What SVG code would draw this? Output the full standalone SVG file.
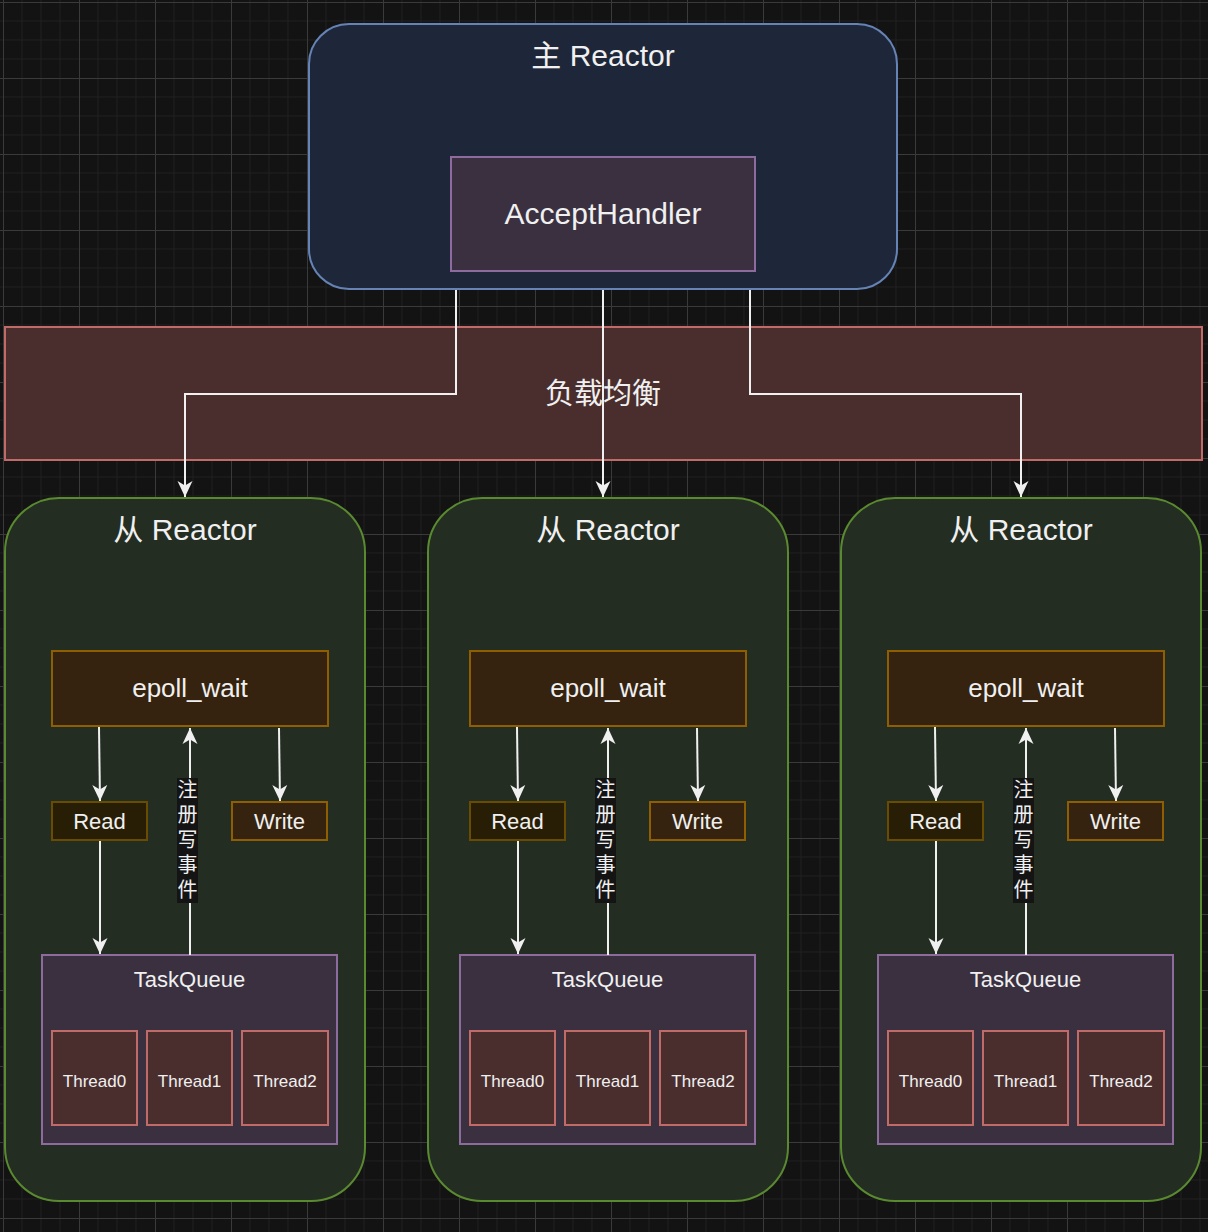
<svg xmlns="http://www.w3.org/2000/svg" width="1208" height="1232" viewBox="0 0 1208 1232">
<defs>
<pattern id="grid" x="3" y="2" width="76" height="76" patternUnits="userSpaceOnUse">
<path d="M19,0 V76 M38,0 V76 M57,0 V76 M0,19 H76 M0,38 H76 M0,57 H76" stroke="#1f1f1f" stroke-width="1" fill="none"/>
<path d="M0.5,0 V76 M0,0.5 H76" stroke="#3a3a3a" stroke-width="1" fill="none"/>
</pattern>
<marker id="arr" markerUnits="userSpaceOnUse" markerWidth="18" markerHeight="18" refX="16" refY="8" orient="auto">
<path d="M0,0.5 L16,8 L0,15.5 L4.5,8 Z" fill="#f0f0f0"/>
</marker>
<style>
text{font-family:"Liberation Sans",Arial,"Noto Sans CJK SC",sans-serif;fill:#f0f0f0;text-anchor:middle}
.slave{fill:#232d22;stroke:#5a8a30;stroke-width:2}
.epoll{fill:#35230f;stroke:#8e5e00;stroke-width:2}
.read{fill:#281e05;stroke:#6a4c00;stroke-width:2}
.write{fill:#35230f;stroke:#8e5e00;stroke-width:2}
.tq{fill:#3a3040;stroke:#8d6b9e;stroke-width:2}
.th{fill:#4a2e2e;stroke:#c06b68;stroke-width:2}
.conn{stroke:#f0f0f0;stroke-width:2;fill:none}
.lbl{fill:#141414}
</style>
</defs>
<rect width="1208" height="1232" fill="#131313"/>
<rect width="1208" height="1232" fill="url(#grid)"/>

<g id="main-reactor">
<rect x="309" y="24" width="588" height="265" rx="40" fill="#1e2739" stroke="#6583b5" stroke-width="2"/>
<text x="603" y="66" font-size="30">主 Reactor</text>
</g>
<g id="accept-handler">
<rect x="451" y="157" width="304" height="114" fill="#3a3040" stroke="#8d6b9e" stroke-width="2"/>
<text x="603" y="224" font-size="30">AcceptHandler</text>
</g>
<g id="load-balance">
<rect x="5" y="327" width="1197" height="133" fill="#4a2e2e" stroke="#c06b68" stroke-width="2"/>
<text x="603" y="404" font-size="29">负载均衡</text>
</g>

<g id="slave-1">
<rect class="slave" x="5" y="498" width="360" height="703" rx="54"/>
<text x="185" y="540" font-size="30">从 Reactor</text>
</g>
<g id="slave-2">
<rect class="slave" x="428" y="498" width="360" height="703" rx="54"/>
<text x="608" y="540" font-size="30">从 Reactor</text>
</g>
<g id="slave-3">
<rect class="slave" x="841" y="498" width="360" height="703" rx="54"/>
<text x="1021" y="540" font-size="30">从 Reactor</text>
</g>

<g id="col-1">
<g id="epoll-1"><rect class="epoll" x="52" y="651" width="276" height="75"/><text x="190" y="697" font-size="26">epoll_wait</text></g>
<g id="read-1"><rect class="read" x="52" y="802" width="95" height="38"/><text x="99.5" y="829" font-size="22">Read</text></g>
<g id="write-1"><rect class="write" x="232" y="802" width="95" height="38"/><text x="279.5" y="829" font-size="22">Write</text></g>
<g id="taskqueue-1"><rect class="tq" x="42" y="955" width="295" height="189"/><text x="189.5" y="987" font-size="22">TaskQueue</text></g>
<g id="thread0-1"><rect class="th" x="52" y="1031" width="85" height="94"/><text x="94.5" y="1087" font-size="17">Thread0</text></g>
<g id="thread1-1"><rect class="th" x="147" y="1031" width="85" height="94"/><text x="189.5" y="1087" font-size="17">Thread1</text></g>
<g id="thread2-1"><rect class="th" x="242" y="1031" width="86" height="94"/><text x="285" y="1087" font-size="17">Thread2</text></g>
</g>
<g id="col-2" transform="translate(418,0)">
<g id="epoll-2"><rect class="epoll" x="52" y="651" width="276" height="75"/><text x="190" y="697" font-size="26">epoll_wait</text></g>
<g id="read-2"><rect class="read" x="52" y="802" width="95" height="38"/><text x="99.5" y="829" font-size="22">Read</text></g>
<g id="write-2"><rect class="write" x="232" y="802" width="95" height="38"/><text x="279.5" y="829" font-size="22">Write</text></g>
<g id="taskqueue-2"><rect class="tq" x="42" y="955" width="295" height="189"/><text x="189.5" y="987" font-size="22">TaskQueue</text></g>
<g id="thread0-2"><rect class="th" x="52" y="1031" width="85" height="94"/><text x="94.5" y="1087" font-size="17">Thread0</text></g>
<g id="thread1-2"><rect class="th" x="147" y="1031" width="85" height="94"/><text x="189.5" y="1087" font-size="17">Thread1</text></g>
<g id="thread2-2"><rect class="th" x="242" y="1031" width="86" height="94"/><text x="285" y="1087" font-size="17">Thread2</text></g>
</g>
<g id="col-3" transform="translate(836,0)">
<g id="epoll-3"><rect class="epoll" x="52" y="651" width="276" height="75"/><text x="190" y="697" font-size="26">epoll_wait</text></g>
<g id="read-3"><rect class="read" x="52" y="802" width="95" height="38"/><text x="99.5" y="829" font-size="22">Read</text></g>
<g id="write-3"><rect class="write" x="232" y="802" width="95" height="38"/><text x="279.5" y="829" font-size="22">Write</text></g>
<g id="taskqueue-3"><rect class="tq" x="42" y="955" width="295" height="189"/><text x="189.5" y="987" font-size="22">TaskQueue</text></g>
<g id="thread0-3"><rect class="th" x="52" y="1031" width="85" height="94"/><text x="94.5" y="1087" font-size="17">Thread0</text></g>
<g id="thread1-3"><rect class="th" x="147" y="1031" width="85" height="94"/><text x="189.5" y="1087" font-size="17">Thread1</text></g>
<g id="thread2-3"><rect class="th" x="242" y="1031" width="86" height="94"/><text x="285" y="1087" font-size="17">Thread2</text></g>
</g>

<g id="connectors">
<path class="conn" d="M456,290 V394 H185 V497" marker-end="url(#arr)"/>
<path class="conn" d="M603,290 V497" marker-end="url(#arr)"/>
<path class="conn" d="M750,290 V394 H1021 V497" marker-end="url(#arr)"/>
<g id="inner-conn-1">
<path class="conn" d="M99,727 L100,801" marker-end="url(#arr)"/>
<path class="conn" d="M279,728 L280,801" marker-end="url(#arr)"/>
<path class="conn" d="M100,841 V954" marker-end="url(#arr)"/>
<path class="conn" d="M190,955 V728" marker-end="url(#arr)"/>
<rect class="lbl" x="177" y="778" width="21" height="125"/>
<text font-size="20"><tspan x="187.5" y="797">注</tspan><tspan x="187.5" y="822">册</tspan><tspan x="187.5" y="847">写</tspan><tspan x="187.5" y="872">事</tspan><tspan x="187.5" y="897">件</tspan></text>
</g>
<g id="inner-conn-2" transform="translate(418,0)">
<path class="conn" d="M99,727 L100,801" marker-end="url(#arr)"/>
<path class="conn" d="M279,728 L280,801" marker-end="url(#arr)"/>
<path class="conn" d="M100,841 V954" marker-end="url(#arr)"/>
<path class="conn" d="M190,955 V728" marker-end="url(#arr)"/>
<rect class="lbl" x="177" y="778" width="21" height="125"/>
<text font-size="20"><tspan x="187.5" y="797">注</tspan><tspan x="187.5" y="822">册</tspan><tspan x="187.5" y="847">写</tspan><tspan x="187.5" y="872">事</tspan><tspan x="187.5" y="897">件</tspan></text>
</g>
<g id="inner-conn-3" transform="translate(836,0)">
<path class="conn" d="M99,727 L100,801" marker-end="url(#arr)"/>
<path class="conn" d="M279,728 L280,801" marker-end="url(#arr)"/>
<path class="conn" d="M100,841 V954" marker-end="url(#arr)"/>
<path class="conn" d="M190,955 V728" marker-end="url(#arr)"/>
<rect class="lbl" x="177" y="778" width="21" height="125"/>
<text font-size="20"><tspan x="187.5" y="797">注</tspan><tspan x="187.5" y="822">册</tspan><tspan x="187.5" y="847">写</tspan><tspan x="187.5" y="872">事</tspan><tspan x="187.5" y="897">件</tspan></text>
</g>
</g>
</svg>
